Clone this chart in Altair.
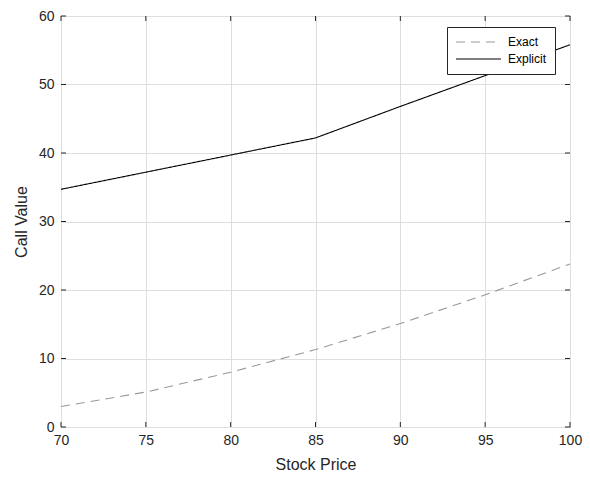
import altair as alt
import pandas as pd

stock = [70, 75, 80, 85, 90, 95, 100]
exact = [3.0, 5.1, 8.0, 11.3, 15.1, 19.3, 23.8]
explicit = [34.7, 37.2, 39.7, 42.2, 46.8, 51.3, 55.8]
series_names = ["Exact", "Explicit"]
x_ticks = [70, 75, 80, 85, 90, 95, 100]
y_ticks = [0, 10, 20, 30, 40, 50, 60]

rows = []
for s, e, x in zip(stock, exact, explicit):
    rows.append({"S": s, "V": e, "series": "Exact"})
    rows.append({"S": s, "V": x, "series": "Explicit"})
df = pd.DataFrame(rows)

W, H = 509, 411
FONT = "Liberation Sans"
AX = "#262626"

xs = alt.Scale(domain=[70, 100], nice=False, zero=False)
ys = alt.Scale(domain=[0, 60], nice=False)

leg = alt.Legend(title=None, orient="none", legendX=386, legendY=11,
                 labelFont=FONT, labelFontSize=12, labelColor="#000000",
                 strokeColor=AX, fillColor="white", padding=8,
                 symbolType="stroke", symbolSize=2025, symbolStrokeWidth=1.1,
                 clipHeight=14, rowPadding=3, labelOffset=6)

lines = alt.Chart(df).mark_line(strokeWidth=1.1).encode(
    x=alt.X("S:Q", scale=xs,
            axis=alt.Axis(values=x_ticks, title="Stock Price", grid=True, tickSize=0,
                          labelPadding=6, titlePadding=9, format="d", labelFlush=False,
                          domain=False, gridColor="#dedede",
                          labelFont=FONT, labelFontSize=14, labelColor=AX,
                          titleFont=FONT, titleFontSize=16, titleColor=AX,
                          titleFontWeight="normal")),
    y=alt.Y("V:Q", scale=ys,
            axis=alt.Axis(values=y_ticks, title="Call Value", grid=True, tickSize=0,
                          labelPadding=7, titlePadding=9, format="d", labelFlush=False,
                          domain=False, gridColor="#dedede",
                          labelFont=FONT, labelFontSize=14, labelColor=AX,
                          titleFont=FONT, titleFontSize=16, titleColor=AX,
                          titleFontWeight="normal")),
    color=alt.Color("series:N", scale=alt.Scale(domain=series_names, range=["#999999", "#000000"]),
                    legend=leg),
    strokeDash=alt.StrokeDash("series:N",
                              scale=alt.Scale(domain=series_names, range=[[9, 6], [1, 0]]),
                              legend=leg),
)

xt = pd.DataFrame({"t": x_ticks})
yt = pd.DataFrame({"t": y_ticks})
bottom_ticks = alt.Chart(xt).mark_rule(color=AX, strokeWidth=1).encode(
    x=alt.X("t:Q", scale=xs), y=alt.value(H), y2=alt.value(H - 5))
top_ticks = alt.Chart(xt).mark_rule(color=AX, strokeWidth=1).encode(
    x=alt.X("t:Q", scale=xs), y=alt.value(0), y2=alt.value(5))
left_ticks = alt.Chart(yt).mark_rule(color=AX, strokeWidth=1).encode(
    y=alt.Y("t:Q", scale=ys), x=alt.value(0), x2=alt.value(5))
right_ticks = alt.Chart(yt).mark_rule(color=AX, strokeWidth=1).encode(
    y=alt.Y("t:Q", scale=ys), x=alt.value(W), x2=alt.value(W - 5))

chart = alt.layer(lines, bottom_ticks, top_ticks, left_ticks, right_ticks).properties(
    width=W, height=H,
    background="white",
    autosize=alt.AutoSizeParams(type="none"),
    padding={"left": 53, "top": 8, "right": 12, "bottom": 45},
).configure_view(
    stroke=AX, strokeWidth=1
)

chart.save("out.html", embed_options={"renderer": "svg", "actions": False})
